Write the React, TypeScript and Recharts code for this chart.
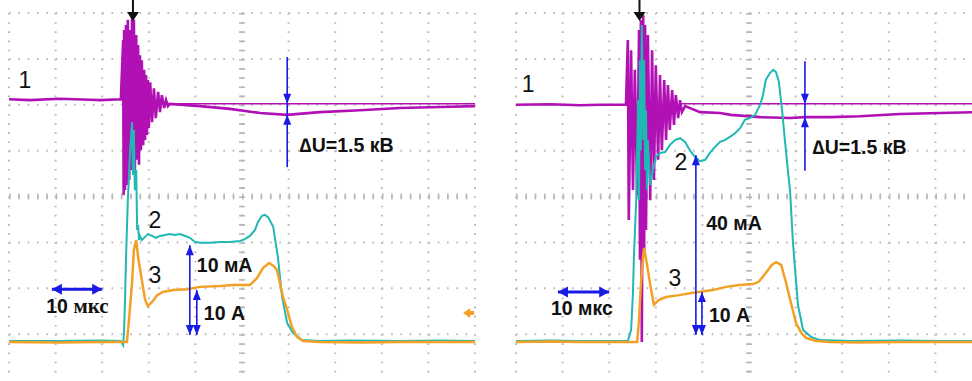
import React from "react";
import { LineChart, Line, XAxis, YAxis, CartesianGrid, ReferenceLine, ReferenceDot } from "recharts";

type Pt = [number, number];

// time in µs (10 µs per division), level in screen divisions from the centre line
const TIME_DIVS = [0, 10, 20, 30, 40, 50, 60, 70, 80, 90, 100];
const LEVEL_DIVS = [-4, -3, -2, -1, 0, 1, 2, 3, 4];
const CENTRE_TIME = [50];
const CENTRE_LEVEL = [0];

// ── left shot ──────────────────────────────────────────────
const u1Left: Pt[] = [
  [0, 2.12], [4.5, 2.1], [10.9, 2.13], [17.4, 2.11], [19.5, 2.1], [24.0, 2.12],
  [24.5, 3.41], [24.6, 0.03], [24.7, 3.63], [24.9, 0.14], [25.1, 3.74], [25.3, 0.25],
  [25.5, 3.85], [25.8, 0.36], [26.0, 3.63], [26.2, 0.58], [26.4, 3.95], [26.6, 0.69],
  [26.8, 3.85], [27.0, 0.47], [27.3, 3.52], [27.5, 0.8], [27.7, 3.3], [27.9, 0.69],
  [28.1, 3.08], [28.3, 1.01], [28.5, 2.97], [28.8, 1.12], [29.0, 2.76], [29.2, 1.23],
  [29.4, 2.65], [29.6, 1.34], [29.8, 2.54], [30.0, 1.49], [30.3, 2.49], [30.7, 1.62],
  [31.1, 2.36], [31.5, 1.71], [32.0, 2.28], [32.4, 1.84], [32.8, 2.21], [33.3, 1.93],
  [33.7, 2.1], [34.1, 1.97], [34.5, 2.02],
  [41.0, 1.97], [47.4, 1.91], [53.9, 1.82], [59.7, 1.78], [66.7, 1.84], [75.3, 1.88],
  [83.9, 1.93], [92.5, 1.95], [100, 1.97],
];
const u1RefLeft: Pt[] = [[33.9, 2.02], [100, 2.02]];

const i2Left: Pt[] = [
  [0, -3.15], [10.9, -3.15], [19.5, -3.14], [24.0, -3.15], [24.5, -3.24], [24.7, -2.91],
  [24.9, -2.25], [25.1, -1.38], [25.5, -0.08], [26.0, 1.01], [26.4, 1.62], [26.6, 0.47],
  [26.8, 1.45], [27.0, 0.14], [27.3, 0.58], [27.5, -0.73], [27.7, -0.62], [27.9, -0.95],
  [28.1, -0.86], [28.5, -0.95], [29.2, -0.88], [29.8, -0.82], [30.7, -0.86], [31.5, -0.9],
  [32.4, -0.86], [33.5, -0.84], [34.5, -0.82], [35.6, -0.84], [36.7, -0.82], [37.8, -0.86],
  [38.8, -0.9], [39.9, -0.99], [41.0, -1.01], [43.1, -1.01], [45.3, -0.99], [47.4, -0.99],
  [49.6, -0.97], [50.6, -0.93], [51.7, -0.86], [52.8, -0.73], [53.4, -0.56], [54.3, -0.42],
  [54.9, -0.4], [55.6, -0.45], [56.7, -0.66], [57.7, -1.32], [58.6, -2.19], [59.7, -2.76],
  [60.9, -2.97], [62.9, -3.13], [66.7, -3.15], [73.2, -3.14], [83.9, -3.15], [92.5, -3.14],
  [100, -3.15],
];

const i3Left: Pt[] = [
  [0, -3.17], [10.9, -3.18], [19.5, -3.17], [24.0, -3.17], [25.3, -3.17], [25.8, -2.63],
  [26.4, -1.88], [26.8, -1.16], [27.3, -0.95], [27.7, -1.32], [28.5, -1.82], [29.2, -2.25],
  [29.8, -2.39], [30.7, -2.3], [31.8, -2.15], [33.0, -2.08], [35.2, -2.04], [38.2, -2.02],
  [41.0, -1.97], [45.3, -1.95], [48.1, -1.93], [51.7, -1.93], [53.2, -1.78], [54.5, -1.56],
  [55.8, -1.45], [56.7, -1.51], [57.5, -1.6], [58.8, -2.19], [59.7, -2.47], [60.7, -2.84],
  [61.8, -3.06], [63.1, -3.15], [66.7, -3.17], [75.3, -3.18], [83.9, -3.17], [100, -3.17],
];

// ── right shot ─────────────────────────────────────────────
const u1Right: Pt[] = [
  [0, 2.0], [7.3, 2.01], [13.7, 1.99], [18.0, 2.0], [23.6, 2.0],
  [24.0, 3.41], [24.2, -0.51], [24.7, 3.19], [25.1, 0.14], [25.5, 2.76], [26.0, 0.03],
  [26.4, 3.63], [26.6, -1.38], [26.8, 3.85], [27.0, -3.17], [27.3, 3.95], [27.5, -1.16],
  [27.7, 3.74], [27.9, -0.73], [28.3, 3.52], [28.8, -0.08], [29.2, 3.19], [29.6, 0.36],
  [30.0, 2.86], [30.5, 0.8], [30.9, 2.65], [31.3, 1.01], [31.8, 2.54], [32.2, 1.23],
  [32.6, 2.43], [33.0, 1.45], [33.5, 2.32], [33.9, 1.56], [34.3, 2.21], [34.8, 1.71],
  [35.2, 2.1], [35.6, 1.84], [36.3, 1.97],
  [39.5, 1.84], [43.8, 1.82], [46.1, 1.78], [52.4, 1.73], [58.8, 1.71], [62.0, 1.73],
  [67.4, 1.73], [73.8, 1.75], [82.4, 1.8], [91.0, 1.82], [100, 1.84],
];
const u1RefRight: Pt[] = [[35.0, 2.02], [100, 2.02]];

const i2Right: Pt[] = [
  [0, -3.15], [7.3, -3.14], [13.7, -3.15], [18.0, -3.15], [24.0, -3.15], [24.7, -2.91],
  [25.1, -2.1], [25.3, -1.32], [25.8, -0.08], [26.2, 2.1], [26.4, -0.08], [26.6, 2.97],
  [26.8, 1.01], [27.0, 3.74], [27.3, 1.23], [27.5, 2.97], [27.7, 0.58], [27.9, 1.88],
  [28.1, 0.14], [28.3, 1.23], [28.8, 0.25], [29.2, 0.47], [30.0, 0.86], [30.9, 0.95],
  [32.0, 0.97], [33.0, 1.12], [34.1, 1.23], [35.2, 1.27], [36.3, 1.19], [37.3, 1.01],
  [38.4, 0.86], [39.5, 0.77], [40.6, 0.8], [41.6, 0.95], [42.7, 1.08], [43.8, 1.19],
  [44.8, 1.23], [45.9, 1.3], [47.0, 1.38], [48.1, 1.49], [49.1, 1.67], [50.2, 1.71],
  [51.3, 1.78], [52.4, 2.0], [53.0, 2.21], [53.6, 2.54], [54.5, 2.69], [55.2, 2.76],
  [55.8, 2.71], [56.4, 2.51], [57.1, 1.88], [57.7, 1.23], [58.4, 0.51], [58.8, 0.14],
  [59.4, -0.95], [59.9, -1.6], [60.5, -2.36], [61.6, -2.91], [63.3, -3.06], [65.2, -3.13],
  [71.7, -3.15], [82.4, -3.14], [91.0, -3.15], [100, -3.15],
];

const i3Right: Pt[] = [
  [0, -3.17], [7.3, -3.16], [13.7, -3.17], [18.0, -3.17], [23.6, -3.17], [26.0, -3.17],
  [26.4, -2.69], [26.8, -1.93], [27.3, -1.27], [27.5, -1.12], [28.3, -1.6], [29.0, -2.04],
  [29.6, -2.36], [30.7, -2.25], [32.2, -2.19], [35.0, -2.15], [38.0, -2.1], [42.3, -2.04],
  [45.1, -1.97], [47.9, -1.93], [50.9, -1.91], [52.1, -1.86], [53.6, -1.67], [54.9, -1.49],
  [55.8, -1.43], [56.9, -1.49], [57.9, -1.86], [59.0, -2.32], [60.1, -2.76], [61.2, -2.97],
  [62.2, -3.08], [64.4, -3.15], [67.4, -3.17], [73.8, -3.18], [82.4, -3.17], [100, -3.17],
];

// annotations (time, level)
type Head = "none" | "end" | "both";
interface Arrow { from: Pt; to: Pt; head: Head; thick?: boolean }
interface Note { at: Pt; text: string; kind: "num" | "bold" | "mks" }

const arrowsLeft: Arrow[] = [
  { from: [59.7, 3.04], to: [59.7, 2.02], head: "end" },
  { from: [59.7, 2.02], to: [59.7, 1.78], head: "none" },
  { from: [59.7, 0.64], to: [59.7, 1.78], head: "end" },
  { from: [38.8, -3.02], to: [38.8, -1.06], head: "both" },
  { from: [40.3, -3.02], to: [40.3, -2.04], head: "both" },
  { from: [9.2, -2.02], to: [20.0, -2.02], head: "both", thick: true },
];
const notesLeft: Note[] = [
  { at: [3.4, 2.54], text: "1", kind: "num" },
  { at: [31.3, -0.51], text: "2", kind: "num" },
  { at: [31.3, -1.71], text: "3", kind: "num" },
  { at: [62.4, 1.12], text: "∆U=1.5 кВ", kind: "bold" },
  { at: [40.3, -1.49], text: "10 мА", kind: "bold" },
  { at: [41.8, -2.54], text: "10 А", kind: "bold" },
  { at: [8.0, -2.39], text: "10 мкс", kind: "mks" },
];

const arrowsRight: Arrow[] = [
  { from: [62.0, 2.95], to: [62.0, 2.02], head: "end" },
  { from: [62.0, 2.02], to: [62.0, 1.73], head: "none" },
  { from: [62.0, 0.56], to: [62.0, 1.73], head: "end" },
  { from: [38.6, -3.02], to: [38.6, 0.9], head: "both" },
  { from: [39.9, -3.02], to: [39.9, -2.08], head: "both" },
  { from: [9.0, -2.08], to: [20.0, -2.08], head: "both", thick: true },
];
const notesRight: Note[] = [
  { at: [2.6, 2.45], text: "1", kind: "num" },
  { at: [35.4, 0.75], text: "2", kind: "num" },
  { at: [34.1, -1.78], text: "3", kind: "num" },
  { at: [63.7, 1.08], text: "∆U=1.5 кВ", kind: "bold" },
  { at: [40.8, -0.58], text: "40 мА", kind: "bold" },
  { at: [41.4, -2.58], text: "10 А", kind: "bold" },
  { at: [7.5, -2.43], text: "10 мкс", kind: "bold" },
];

const triggerLeft: Pt = [26.6, 4];
const triggerRight: Pt = [26.5, 4];
const groundMarkLeft: Pt = [98.3, -2.54];

const MAGENTA = "#b010b4";
const CYAN = "#20b8b2";
const ORANGE = "#f3a126";
const BLUE = "#1a1ae6";
const GRID = "#b8b8b8";
const SANS = "'Liberation Sans', Arial, sans-serif";

const rows = (pts: Pt[]) => pts.map(([t, v]) => ({ t, v }));

const arrowShape = (head: Head, thick?: boolean) => (p: any) => {
  const { x1, y1, x2, y2 } = p;
  const len = Math.hypot(x2 - x1, y2 - y1) || 1;
  const ux = (x2 - x1) / len;
  const uy = (y2 - y1) / len;
  const L = 10;
  const W = thick ? 5.5 : 4;
  const tri = (tx: number, ty: number, sx: number, sy: number) =>
    `M${tx},${ty} L${tx - sx * L - sy * W},${ty - sy * L + sx * W} L${tx - sx * L + sy * W},${ty - sy * L - sx * W} Z`;
  return (
    <g>
      <line x1={x1} y1={y1} x2={x2} y2={y2} stroke={BLUE} strokeWidth={thick ? 3 : 1.6} />
      {head !== "none" && <path d={tri(x2, y2, ux, uy)} fill={BLUE} />}
      {head === "both" && <path d={tri(x1, y1, -ux, -uy)} fill={BLUE} />}
    </g>
  );
};

const noteShape = (n: Note) => (p: any) => {
  if (n.kind === "num") {
    return (
      <text x={p.cx} y={p.cy} textAnchor="middle" dominantBaseline="central" fontFamily={SANS} fontSize={23} fill="#111">
        {n.text}
      </text>
    );
  }
  if (n.kind === "mks") {
    const [num, unit] = n.text.split(" ");
    return (
      <text x={p.cx} y={p.cy} dominantBaseline="central" fontFamily={SANS} fontWeight="bold" fontSize={19.5} fill="#111">
        {num + " "}
        <tspan fontFamily="'Liberation Serif', serif" fontSize={21}>{unit}</tspan>
      </text>
    );
  }
  return (
    <text x={p.cx} y={p.cy} dominantBaseline="central" fontFamily={SANS} fontWeight="bold" fontSize={19.5} fill="#111">
      {n.text}
    </text>
  );
};

const triggerShape = (p: any) => (
  <g>
    <line x1={p.cx} y1={p.cy - 13} x2={p.cx} y2={p.cy} stroke="#111" strokeWidth={2} />
    <path d={`M${p.cx - 6},${p.cy - 1} L${p.cx + 6},${p.cy - 1} L${p.cx},${p.cy + 8} Z`} fill="#111" />
  </g>
);

const groundShape = (p: any) => (
  <path d={`M${p.cx - 4},${p.cy} L${p.cx + 3},${p.cy - 5} L${p.cx + 3},${p.cy + 5} Z M${p.cx + 3},${p.cy - 2} h4 v4 h-4 Z`} fill={ORANGE} />
);

interface PanelProps {
  width: number;
  left: number;
  u1: Pt[];
  u1Ref: Pt[];
  i2: Pt[];
  i3: Pt[];
  arrows: Arrow[];
  notes: Note[];
  trigger: Pt;
  ground?: Pt;
}

function Panel({ width, left, u1, u1Ref, i2, i3, arrows, notes, trigger, ground }: PanelProps) {
  return (
    <LineChart width={width} height={381} margin={{ top: 13, right: width - left - 466, bottom: 1, left }}>
      <XAxis type="number" dataKey="t" domain={[0, 100]} hide allowDataOverflow />
      <YAxis type="number" dataKey="v" domain={[-4, 4]} hide allowDataOverflow />
      <CartesianGrid horizontal={false} verticalValues={TIME_DIVS} stroke={GRID} strokeWidth={2} strokeDasharray="1.6 7.575" />
      <CartesianGrid vertical={false} horizontalValues={LEVEL_DIVS} stroke={GRID} strokeWidth={2} strokeDasharray="1.6 7.72" />
      <CartesianGrid horizontal={false} verticalValues={CENTRE_TIME} stroke={GRID} strokeWidth={6} strokeDasharray="1.6 7.575" />
      <CartesianGrid vertical={false} horizontalValues={CENTRE_LEVEL} stroke={GRID} strokeWidth={6} strokeDasharray="1.6 7.72" />
      <Line data={rows(u1)} dataKey="v" stroke={MAGENTA} strokeWidth={2.6} dot={false} isAnimationActive={false} />
      <Line data={rows(u1Ref)} dataKey="v" stroke={MAGENTA} strokeWidth={1.5} dot={false} isAnimationActive={false} />
      <Line data={rows(i2)} dataKey="v" stroke={CYAN} strokeWidth={2} dot={false} isAnimationActive={false} />
      <Line data={rows(i3)} dataKey="v" stroke={ORANGE} strokeWidth={2.5} dot={false} isAnimationActive={false} />
      {arrows.map((a, i) => (
        <ReferenceLine
          key={"a" + i}
          segment={[{ x: a.from[0], y: a.from[1] }, { x: a.to[0], y: a.to[1] }]}
          shape={arrowShape(a.head, a.thick)}
        />
      ))}
      {notes.map((n, i) => (
        <ReferenceDot key={"n" + i} x={n.at[0]} y={n.at[1]} r={0} shape={noteShape(n)} />
      ))}
      <ReferenceDot x={trigger[0]} y={trigger[1]} r={0} shape={triggerShape} />
      {ground && <ReferenceDot x={ground[0]} y={ground[1]} r={0} shape={groundShape} />}
    </LineChart>
  );
}

export default function App() {
  return (
    <div style={{ position: "absolute", left: 0, top: 0, width: 972, height: 381, overflow: "hidden", background: "#fff" }}>
      <div style={{ position: "absolute", left: 0, top: 0 }}>
        <Panel width={486} left={9} u1={u1Left} u1Ref={u1RefLeft} i2={i2Left} i3={i3Left}
          arrows={arrowsLeft} notes={notesLeft} trigger={triggerLeft} ground={groundMarkLeft} />
      </div>
      <div style={{ position: "absolute", left: 486, top: 0 }}>
        <Panel width={496} left={30} u1={u1Right} u1Ref={u1RefRight} i2={i2Right} i3={i3Right}
          arrows={arrowsRight} notes={notesRight} trigger={triggerRight} />
      </div>
    </div>
  );
}
